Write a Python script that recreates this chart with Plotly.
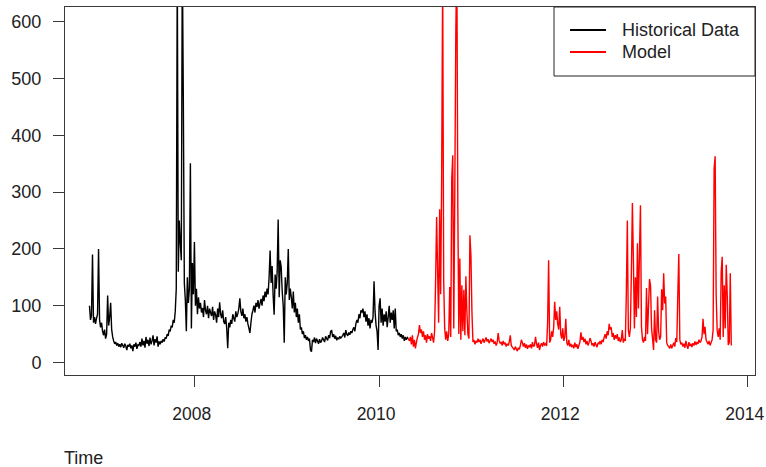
import pandas as pd
import plotly.graph_objects as go

# Observed series, one value every 4 days
hist_start = "2006-11-10"
historical = [
    100, 75, 82, 190, 70, 80, 68, 78, 85, 200,
    75, 62, 70, 55, 48, 58, 42, 50, 118, 65,
    80, 105, 58, 45, 38, 33, 36, 30, 34, 28,
    32, 27, 34, 30, 26, 33, 29, 22, 31, 28,
    33, 25, 30, 20, 32, 28, 35, 24, 31, 30,
    36, 28, 42, 30, 38, 26, 45, 33, 40, 29,
    44, 32, 38, 48, 30, 41, 35, 46, 28, 37,
    32, 38, 35, 41, 37, 44, 42, 50, 47, 58,
    55, 65, 62, 75, 70, 90, 130, 700, 160, 250,
    210, 180, 720, 467, 140, 110, 55, 150, 105, 130,
    351, 60, 175, 120, 212, 100, 130, 85, 115, 95,
    105, 88, 96, 80, 110, 92, 85, 100, 78, 95,
    88, 82, 98, 75, 90, 84, 70, 95, 80, 106,
    85, 78, 92, 72, 68, 80, 60, 25, 70, 62,
    75, 68, 85, 78, 72, 90, 80, 86, 95, 113,
    90, 82, 95, 78, 85, 72, 80, 68, 60, 52,
    70, 85, 92, 100, 88, 105, 98, 110, 95, 104,
    112, 100, 118, 108, 125, 115, 130, 120, 150, 197,
    140, 170, 118, 84, 155, 130, 160, 252, 115, 180,
    168, 125, 100, 35, 150, 120, 140, 200, 110, 130,
    115, 95, 125, 88, 105, 80, 95, 70, 85, 58,
    62, 50, 55, 43, 48, 40, 45, 38, 42, 22,
    19, 40, 36, 44, 34, 42, 38, 33, 41, 35,
    38, 44, 40, 36, 46, 42, 39, 48, 43, 55,
    56, 45, 50, 42, 47, 39, 44, 41, 46, 43,
    45, 48, 52, 44, 57, 50, 47, 53, 49, 55,
    52, 58, 62, 55, 68, 75, 70, 85, 78, 92,
    88, 95, 80, 90, 72, 85, 65, 78, 60, 75,
    70, 80, 143, 90, 65, 55, 22, 100, 113, 70,
    95, 65, 85, 72, 90, 62, 80, 100, 70, 88,
    75, 92, 60, 95, 55, 58, 48, 52, 45, 50,
    42, 48, 38, 45, 40, 44, 42,
]

# Simulated continuation, same 4-day step, starting after the last observation
model = [
    38, 45, 32, 48, 28, 40, 25, 36, 44, 50,
    66, 52, 58, 45, 55, 40, 48, 35, 50, 42,
    46, 38, 52, 44, 35, 55, 145, 256, 160, 70,
    270, 120, 326, 680, 145, 60, 40, 55, 38, 50,
    133, 45, 324, 365, 60, 297, 576, 720, 274, 50,
    183, 40, 136, 55, 128, 48, 152, 89, 50, 42,
    224, 189, 89, 36, 40, 32, 38, 35, 42, 36,
    40, 33, 38, 42, 35, 39, 44, 37, 41, 34,
    38, 42, 36, 40, 33, 37, 30, 35, 52, 38,
    34, 36, 30, 38, 32, 35, 28, 33, 30, 36,
    48, 30, 27, 25, 22, 28, 24, 20, 26, 23,
    30, 40, 35, 28, 34, 26, 32, 24, 30, 27,
    32, 25, 36, 28, 30, 45, 33, 26, 35, 22,
    30, 34, 28, 36, 31, 33, 29, 70, 180, 35,
    40, 55, 45, 62, 107, 75, 90, 68, 58, 98,
    50, 42, 60, 38, 45, 77, 35, 30, 40, 28,
    33, 28, 30, 25, 35, 27, 32, 24, 30, 36,
    53, 40, 45, 36, 42, 32, 38, 30, 35, 43,
    38, 30, 34, 28, 36, 31, 27, 35, 33, 38,
    32, 40, 36, 44, 50, 42, 55, 48, 68, 58,
    62, 45, 52, 40, 48, 42, 50, 38, 44, 36,
    40, 57, 35, 42, 38, 120, 250, 57, 45, 60,
    160, 281, 180, 60, 150, 80, 210, 95, 190, 277,
    63, 40, 35, 45, 38, 131, 50, 100, 147, 135,
    60, 42, 22, 92, 40, 35, 116, 55, 40, 45,
    129, 92, 157, 104, 116, 35, 30, 28, 25, 32,
    25, 30, 35, 28, 43, 36, 119, 191, 40, 32,
    35, 28, 33, 26, 38, 30, 24, 36, 29, 33,
    27, 34, 30, 37, 31, 36, 33, 40, 35, 38,
    45, 77, 50, 63, 40, 36, 32, 38, 30, 35,
    40, 57, 342, 363, 120, 57, 45, 60, 40, 160,
    186, 45, 136, 60, 172, 119, 31, 35, 157, 30,
]

year_ticks = ["2008", "2010", "2012", "2014"]
y_ticks = [0, 100, 200, 300, 400, 500, 600]
series_names = ["Historical Data", "Model"]
series_colors = ["#000000", "#ff0000"]

hist_dates = pd.date_range(hist_start, periods=len(historical), freq="4D")
model_dates = pd.date_range(hist_dates[-1], periods=len(model) + 1, freq="4D")

FONT = "Liberation Sans, Arial, sans-serif"
AXIS_COLOR = "#3a3a3a"
TEXT_COLOR = "#222222"

fig = go.Figure()
fig.add_trace(go.Scatter(
    x=hist_dates, y=historical, mode="lines", name=series_names[0],
    line=dict(color=series_colors[0], width=1.4, simplify=False),
))
fig.add_trace(go.Scatter(
    x=model_dates, y=[historical[-1]] + model, mode="lines", name=series_names[1],
    line=dict(color=series_colors[1], width=1.4, simplify=False),
))

# Boxed key in the top-right corner of the plotting area (paper coordinates)
shapes = [dict(
    type="rect", xref="paper", yref="paper",
    x0=0.7087, x1=1.0, y0=0.8125, y1=1.0,
    line=dict(color=TEXT_COLOR, width=1), fillcolor="white", layer="above",
)]
annotations = []
for k, (name, color) in enumerate(zip(series_names, series_colors)):
    ky = 0.9375 - k * 0.0598
    shapes.append(dict(
        type="line", xref="paper", yref="paper",
        x0=0.7319, x1=0.7841, y0=ky, y1=ky,
        line=dict(color=color, width=2), layer="above",
    ))
    annotations.append(dict(
        text=name, xref="paper", yref="paper", x=0.8043, y=ky,
        xanchor="left", yanchor="middle", showarrow=False,
        font=dict(family=FONT, size=18, color=TEXT_COLOR),
    ))

annotations.append(dict(
    text="Time", xref="paper", yref="paper",
    x=-0.004, y=-0.225, xanchor="left", yanchor="middle",
    showarrow=False, font=dict(family=FONT, size=18, color=TEXT_COLOR),
))

fig.update_layout(
    width=766, height=467,
    margin=dict(l=65, r=11, t=7, b=92, autoexpand=False),
    paper_bgcolor="white", plot_bgcolor="white",
    font=dict(family=FONT, size=18, color=TEXT_COLOR),
    showlegend=False,
    shapes=shapes,
    annotations=annotations,
    xaxis=dict(
        type="date",
        range=["2006-08-05", "2014-01-30"],
        tickvals=[f"{y}-01-01" for y in year_ticks],
        ticktext=year_ticks,
        ticks="outside", ticklen=11, tickwidth=1, tickcolor=AXIS_COLOR,
        showline=True, linecolor=AXIS_COLOR, linewidth=1, mirror=True,
        showgrid=False, zeroline=False, automargin=False,
        ticklabelstandoff=12, ticklabeloverflow="allow", ticklabelshift=-3,
        tickfont=dict(family=FONT, size=17.5, color=TEXT_COLOR),
    ),
    yaxis=dict(
        range=[-22, 626],
        tickvals=y_ticks,
        ticks="outside", ticklen=11, tickwidth=1, tickcolor=AXIS_COLOR,
        showline=True, linecolor=AXIS_COLOR, linewidth=1, mirror=True,
        showgrid=False, zeroline=False, automargin=False,
        ticklabelstandoff=8,
    ),
)

fig.write_html("out.html")
